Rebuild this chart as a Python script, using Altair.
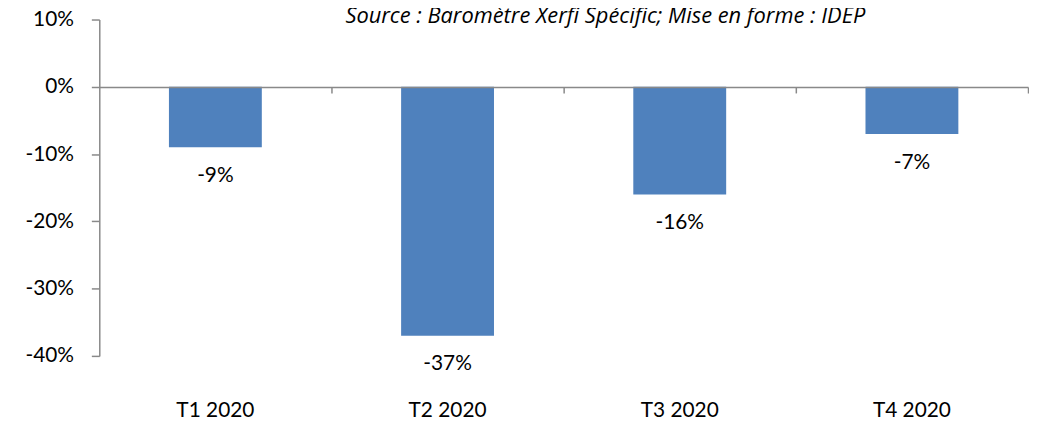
import altair as alt
import pandas as pd

categories = ["T1 2020", "T2 2020", "T3 2020", "T4 2020"]
values = [-9, -37, -16, -7]
y_ticks = [10, 0, -10, -20, -30, -40]
source_text = ["Source : Baromètre Xerfi Spécific; Mise en forme : IDEP"]

df = pd.DataFrame({"cat": categories, "v": values})
df["label"] = [f"{v}%" for v in values]
src = pd.DataFrame({"t": source_text})

FONT = "Lato"
NOTE_FONT = "Open Sans"
GRAY = "#898989"
BLUE = "#4F81BD"

x = alt.X(
    "cat:N", sort=categories, title=None,
    scale=alt.Scale(paddingInner=0.6, paddingOuter=0.3),
    axis=alt.Axis(
        orient="bottom", offset=-271, zindex=1,
        domainColor=GRAY, domainWidth=1.5,
        tickColor=GRAY, tickWidth=1.5, tickSize=6, bandPosition=1.75,
        labelAngle=0, labelPadding=309, labelFont=FONT, labelFontSize=21,
        labelColor="black", labelBaseline="top",
    ),
)
y = alt.Y(
    "v:Q", title=None,
    scale=alt.Scale(domain=[-40, 10], nice=False, zero=False),
    axis=alt.Axis(
        values=y_ticks, labelExpr="datum.value + '%'", grid=False,
        domainColor=GRAY, domainWidth=1.5,
        tickColor=GRAY, tickWidth=1.5, tickSize=8,
        labelPadding=18, labelFont=FONT, labelFontSize=21, labelColor="black",
    ),
)

base = alt.Chart(df)
bars = base.mark_bar(color=BLUE).encode(x=x, y=y)
labels = base.mark_text(baseline="top", dy=18, font=FONT, fontSize=21, color="black").encode(
    x=alt.X("cat:N", sort=categories), y="v:Q", text="label:N"
)
note = alt.Chart(src).mark_text(
    align="center", baseline="middle", font=NOTE_FONT, fontSize=22,
    fontStyle="italic", color="black",
).encode(x=alt.value(510), y=alt.value(-3), text="t:N")

chart = alt.layer(bars, labels, note).properties(
    width=936, height=339,
    autosize=alt.AutoSizeParams(type="none"),
    padding={"left": 92, "top": 10, "right": 1, "bottom": 63},
).configure_view(stroke=None)

chart.save("out.html", embed_options={"renderer": "svg", "actions": False})
